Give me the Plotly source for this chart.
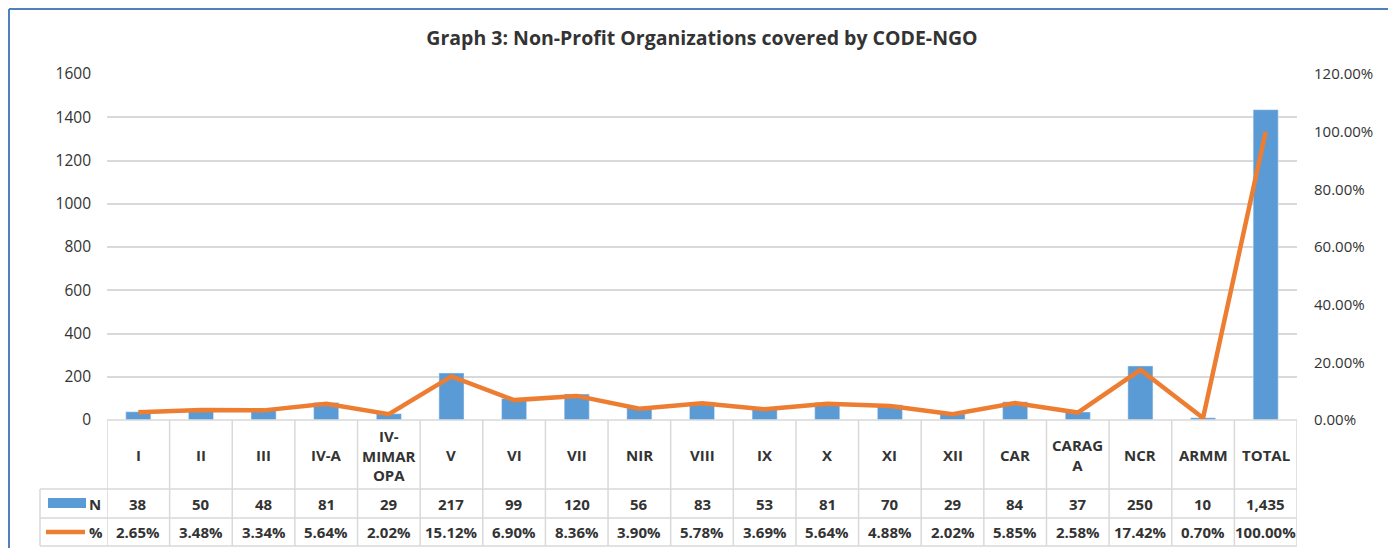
import plotly.graph_objects as go

categories = ["I", "II", "III", "IV-A", "IV-<br>MIMAR<br>OPA", "V", "VI", "VII", "NIR", "VIII",
              "IX", "X", "XI", "XII", "CAR", "CARAG<br>A", "NCR", "ARMM", "TOTAL"]
n_values = [38, 50, 48, 81, 29, 217, 99, 120, 56, 83, 53, 81, 70, 29, 84, 37, 250, 10, 1435]
pct_values = [2.65, 3.48, 3.34, 5.64, 2.02, 15.12, 6.90, 8.36, 3.90, 5.78,
              3.69, 5.64, 4.88, 2.02, 5.85, 2.58, 17.42, 0.70, 100.00]
title_text = "Graph 3: Non-Profit Organizations covered by CODE-NGO"

BLUE = "#5B9BD5"
ORANGE = "#ED7D31"
GRID = "#D9D9D9"
TXT = "#333333"
FONT = "Open Sans"

OFF = 8  # page body margin
W, H = 1396 - OFF, 556 - 2 * OFF
L, R, T = 107 - OFF, 1396 - 1297, 74 - OFF
B = H - (420 - OFF)
PH = H - T - B
PW = W - L - R


def py(pix):
    return (H - B - (pix - OFF)) / PH


def px(pix):
    return ((pix - OFF) - L) / PW


xs = list(range(len(categories)))
fig = go.Figure()
fig.add_trace(go.Bar(x=xs, y=n_values, marker_color=BLUE, width=0.4, name="N", yaxis="y"))
fig.add_trace(go.Scatter(x=xs, y=[p / 100 for p in pct_values], mode="lines",
                         line=dict(color=ORANGE, width=4.5), name="%", yaxis="y2"))

shapes = []
for pix, x0 in [(420, 107), (489, 40), (518, 40), (546, 40)]:
    shapes.append(dict(type="line", xref="paper", yref="paper", x0=px(x0), x1=1,
                       y0=py(pix), y1=py(pix), line=dict(color=GRID, width=1.5), layer="above"))
for i in range(len(categories) + 1):
    shapes.append(dict(type="line", xref="x", yref="paper", x0=i - 0.5, x1=i - 0.5,
                       y0=py(420), y1=py(546), line=dict(color=GRID, width=1.5)))
shapes.append(dict(type="line", xref="paper", yref="paper", x0=px(40), x1=px(40),
                   y0=py(489), y1=py(546), line=dict(color=GRID, width=1.5)))
# legend keys
shapes.append(dict(type="rect", xref="paper", yref="paper", x0=px(48), x1=px(86),
                   y0=py(508), y1=py(498), fillcolor=BLUE, line=dict(width=0)))
shapes.append(dict(type="line", xref="paper", yref="paper", x0=px(46), x1=px(85),
                   y0=py(532), y1=py(532), line=dict(color=ORANGE, width=4.5)))
# outer border
for (x0, y0, x1, y1) in [(9, 9, 1390, 9), (9, 9, 9, 560), (1390, 9, 1390, 560)]:
    shapes.append(dict(type="line", xref="paper", yref="paper", x0=px(x0), x1=px(x1),
                       y0=py(y0), y1=py(y1), line=dict(color="#4F81BD", width=2)))

tf = dict(family=FONT, size=15, color=TXT)
annotations = []
for i, c in enumerate(categories):
    annotations.append(dict(x=i, xref="x", y=py(455), yref="paper", text=f"<b>{c}</b>",
                            xanchor="center", yanchor="middle", showarrow=False, font=tf))
    annotations.append(dict(x=i, xref="x", y=py(504), yref="paper", text=f"<b>{n_values[i]:,}</b>",
                            xanchor="center", yanchor="middle", showarrow=False, font=tf))
    annotations.append(dict(x=i, xref="x", y=py(532), yref="paper", text=f"<b>{pct_values[i]:.2f}%</b>",
                            xanchor="center", yanchor="middle", showarrow=False, font=tf))
annotations.append(dict(x=px(87), xref="paper", y=py(504), yref="paper", text="<b>N</b>",
                        xanchor="left", yanchor="middle", showarrow=False, font=tf))
annotations.append(dict(x=px(87), xref="paper", y=py(532), yref="paper", text="<b>%</b>",
                        xanchor="left", yanchor="middle", showarrow=False, font=tf))

fig.update_layout(
    width=W, height=H,
    margin=dict(l=L, r=R, t=T, b=B, pad=0),
    plot_bgcolor="white", paper_bgcolor="white",
    showlegend=False,
    title=dict(text=f"<b>{title_text}</b>", x=0.5, xref="paper", xanchor="center",
               y=1 - (38 - OFF) / H, yanchor="middle", font=dict(family=FONT, size=19.5, color=TXT)),
    xaxis=dict(range=[-0.5, len(categories) - 0.5], showticklabels=False, showgrid=False,
               zeroline=False, ticks=""),
    yaxis=dict(range=[0, 1600], dtick=200, showgrid=True, gridcolor=GRID, gridwidth=1.5,
               zeroline=False, ticks="", tickfont=dict(family=FONT, size=15.5, color=TXT),
               ticklabelstandoff=15),
    yaxis2=dict(range=[0, 1.2], dtick=0.2, tickformat=".2%", overlaying="y", side="right",
                showgrid=False, zeroline=False, ticks="",
                tickfont=dict(family=FONT, size=15, color=TXT), ticklabelstandoff=16),
    shapes=shapes, annotations=annotations,
)

fig.write_html("out.html")
